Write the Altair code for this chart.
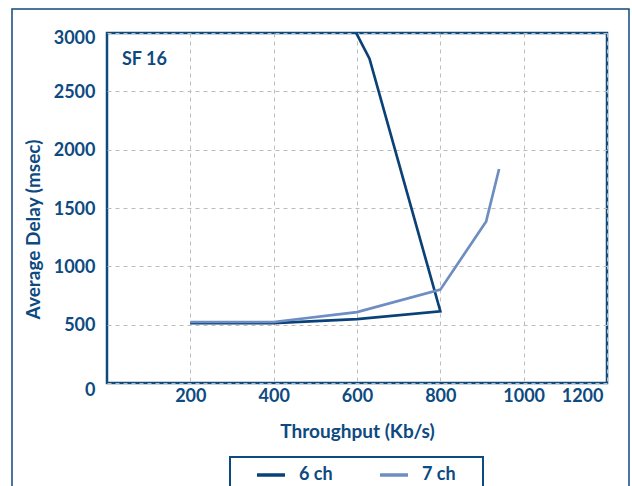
import altair as alt
import pandas as pd

# Average delay versus throughput, spreading factor 16
series = ["6 ch", "7 ch"]
throughput_6ch = [200, 400, 600, 800, 630, 580]
delay_6ch = [514, 514, 548, 615, 2780, 3125]
throughput_7ch = [200, 400, 600, 800, 910, 941]
delay_7ch = [523, 523, 608, 800, 1385, 1834]
x_ticks = [200, 400, 600, 800, 1000, 1200]
y_ticks = [0, 500, 1000, 1500, 2000, 2500, 3000]

DARK = "#0a4278"
LIGHT = "#6e8dc2"
TEXT = "#0d4a80"
FONT = "Lato"

rows = []
for name, xs, ys in [("6 ch", throughput_6ch, delay_6ch), ("7 ch", throughput_7ch, delay_7ch)]:
    for i, (x, y) in enumerate(zip(xs, ys)):
        rows.append({"series": name, "step": i, "throughput": x, "delay": y})
df = pd.DataFrame(rows)

x_enc = alt.X(
    "throughput:Q",
    scale=alt.Scale(domain=[0, 1200], nice=False),
    axis=alt.Axis(
        values=x_ticks,
        format="d",
        title="Throughput (Kb/s)",
        labelPadding=4,
        labelOffset={"condition": {"test": "datum.value == 1200", "value": -4}, "value": 0},
        titleY=48,
        titleBaseline="middle",
    ),
)
y_enc = alt.Y(
    "delay:Q",
    scale=alt.Scale(domain=[0, 3000], nice=False),
    axis=alt.Axis(
        values=y_ticks,
        format="d",
        title="Average Delay (msec)",
        labelPadding=12,
        labelOffset={
            "condition": [
                {"test": "datum.value == 3000", "value": 5},
                {"test": "datum.value == 0", "value": 7},
            ],
            "value": 1,
        },
        titleX=-74,
        titleY=196,
        titleBaseline="middle",
    ),
)

lines = alt.Chart(df).mark_line(clip=True, strokeWidth=2.7).encode(
    x=x_enc,
    y=y_enc,
    order="step:Q",
    color=alt.Color(
        "series:N",
        scale=alt.Scale(domain=series, range=[DARK, LIGHT]),
        legend=alt.Legend(
            title=None,
            orient="none",
            legendX=148,
            legendY=426,
            direction="horizontal",
            columns=2,
            columnPadding=40,
            symbolType="stroke",
            symbolSize=784,
            symbolStrokeWidth=3.5,
            labelFont=FONT,
            labelFontSize=18,
            labelFontWeight="bold",
            labelColor=TEXT,
            labelOffset=12,
            padding=0,
        ),
    ),
)

one = pd.DataFrame({"k": [0]})

# outer frame around the whole figure
frame = alt.Chart(one).mark_rect(
    fillOpacity=0, stroke=TEXT, strokeWidth=1.5, clip=False
).encode(
    x=alt.value(-95), x2=alt.value(522), y=alt.value(-24), y2=alt.value(480)
)

# box enclosing the legend entries
legend_box = alt.Chart(one).mark_rect(
    fillOpacity=0, stroke=TEXT, strokeWidth=2, clip=False
).encode(
    x=alt.value(123), x2=alt.value(376), y=alt.value(424), y2=alt.value(475)
)

label = alt.Chart(one).mark_text(
    text="SF 16", font=FONT, fontSize=18, fontWeight="bold", color=TEXT,
    align="left", baseline="middle"
).encode(x=alt.value(15), y=alt.value(27))

chart = (
    alt.layer(frame, legend_box, label, lines)
    .properties(
        width=500,
        height=350,
        autosize=alt.AutoSizeParams(type="none"),
        padding={"left": 107, "top": 33, "right": 25, "bottom": 103},
    )
    .configure_view(stroke=TEXT, strokeWidth=2.5)
    .configure_axis(
        grid=True,
        gridColor="#bdbdbd",
        gridDash=[4, 4],
        gridWidth=1,
        domain=False,
        ticks=False,
        labelFont=FONT,
        labelFontSize=18,
        labelFontWeight="bold",
        labelColor=TEXT,
        titleFont=FONT,
        titleFontSize=19,
        titleFontWeight="bold",
        titleColor=TEXT,
    )
)

chart.save("out.html", embed_options={"renderer": "svg", "actions": False})
